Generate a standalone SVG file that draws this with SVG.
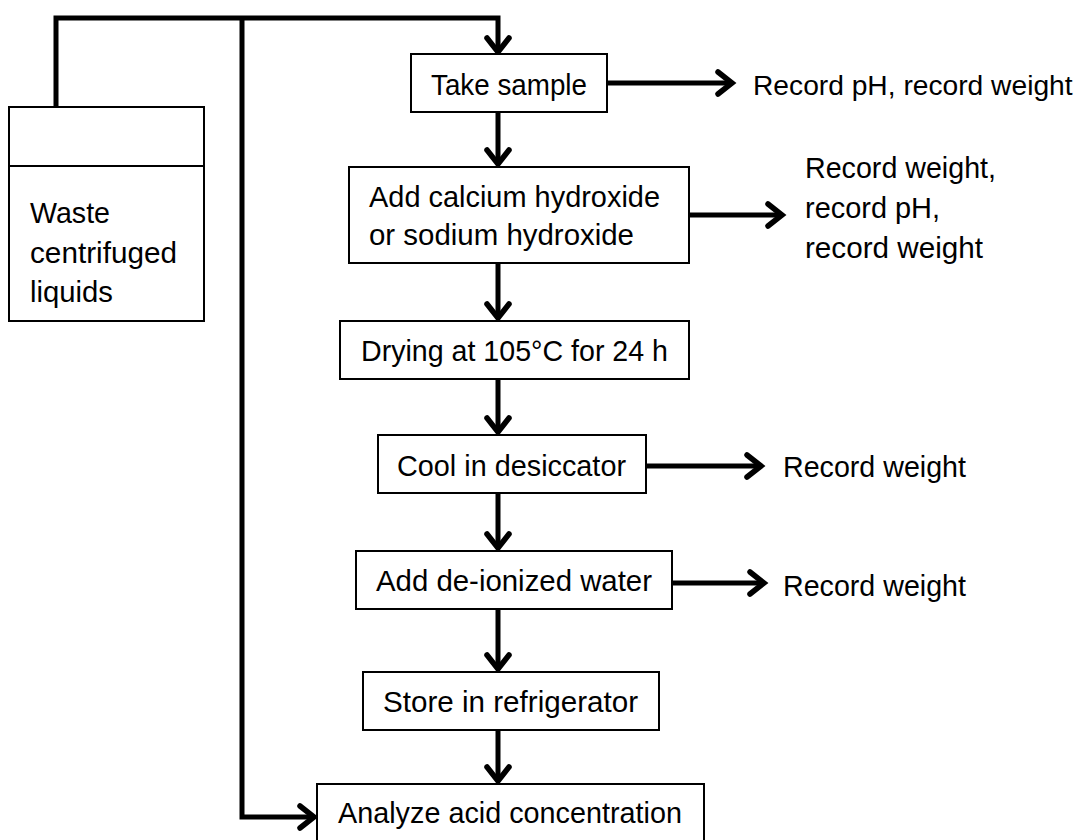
<svg xmlns="http://www.w3.org/2000/svg" width="1087" height="840" viewBox="0 0 1087 840">
<style>
.box{fill:#fff;stroke:#000;stroke-width:2}
.t{font-family:"Liberation Sans",Arial,sans-serif;font-size:30px;fill:#000}
.c{fill:none;stroke:#000;stroke-width:5}
</style>
<defs>
<marker id="ah" markerUnits="userSpaceOnUse" markerWidth="40" markerHeight="40" viewBox="-20 -20 40 40" refX="0" refY="0" orient="auto" overflow="visible">
<path d="M-14,-11 L0,0 L-14,11" fill="none" stroke="#000" stroke-width="5.5" stroke-linecap="round" stroke-linejoin="miter"/>
</marker>
</defs>
<rect width="1087" height="840" fill="#fff"/>
<g id="connectors">
<path class="c" d="M56,107 V18 H498 V52" marker-end="url(#ah)"/>
<path class="c" d="M242,18 V817 H314" marker-end="url(#ah)"/>
<path class="c" d="M498,112 V164" marker-end="url(#ah)"/>
<path class="c" d="M498,263 V318" marker-end="url(#ah)"/>
<path class="c" d="M498,379 V432" marker-end="url(#ah)"/>
<path class="c" d="M498,493 V548" marker-end="url(#ah)"/>
<path class="c" d="M498,609 V669" marker-end="url(#ah)"/>
<path class="c" d="M498,730 V781" marker-end="url(#ah)"/>
<path class="c" d="M607,83 H732" marker-end="url(#ah)"/>
<path class="c" d="M689,215 H782" marker-end="url(#ah)"/>
<path class="c" d="M646,466 H761" marker-end="url(#ah)"/>
<path class="c" d="M672,583 H764" marker-end="url(#ah)"/>
</g>
<g id="waste">
<rect class="box" x="9" y="107" width="195" height="214"/>
<line x1="9" y1="166" x2="204" y2="166" stroke="#000" stroke-width="2"/>
<text class="t" x="30" y="223" textLength="80" lengthAdjust="spacingAndGlyphs">Waste</text>
<text class="t" x="30" y="263" textLength="147" lengthAdjust="spacingAndGlyphs">centrifuged</text>
<text class="t" x="30" y="302" textLength="83" lengthAdjust="spacingAndGlyphs">liquids</text>
</g>
<g id="take-sample">
<rect class="box" x="411" y="54" width="196" height="58"/>
<text class="t" x="431" y="95" textLength="156" lengthAdjust="spacingAndGlyphs">Take sample</text>
</g>
<g id="record1">
<text class="t" x="753" y="95" style="font-size:28.2px">Record pH, record weight</text>
</g>
<g id="add-hydroxide">
<rect class="box" x="349" y="167" width="340" height="96"/>
<text class="t" x="369" y="207" textLength="291" lengthAdjust="spacingAndGlyphs">Add calcium hydroxide</text>
<text class="t" x="369" y="245" textLength="265" lengthAdjust="spacingAndGlyphs">or sodium hydroxide</text>
</g>
<g id="record2">
<text class="t" x="805" y="178" textLength="191" lengthAdjust="spacingAndGlyphs">Record weight,</text>
<text class="t" x="805" y="218" textLength="135" lengthAdjust="spacingAndGlyphs">record pH,</text>
<text class="t" x="805" y="258" textLength="178" lengthAdjust="spacingAndGlyphs">record weight</text>
</g>
<g id="drying">
<rect class="box" x="340" y="321" width="349" height="58"/>
<text class="t" x="361" y="361" textLength="307" lengthAdjust="spacingAndGlyphs">Drying at 105°C for 24 h</text>
</g>
<g id="cool">
<rect class="box" x="378" y="435" width="268" height="58"/>
<text class="t" x="397" y="476" textLength="229" lengthAdjust="spacingAndGlyphs">Cool in desiccator</text>
</g>
<g id="record3">
<text class="t" x="783" y="477" textLength="183" lengthAdjust="spacingAndGlyphs">Record weight</text>
</g>
<g id="add-water">
<rect class="box" x="356" y="551" width="316" height="58"/>
<text class="t" x="376" y="591" textLength="276" lengthAdjust="spacingAndGlyphs">Add de-ionized water</text>
</g>
<g id="record4">
<text class="t" x="783" y="596" textLength="183" lengthAdjust="spacingAndGlyphs">Record weight</text>
</g>
<g id="store">
<rect class="box" x="363" y="672" width="296" height="58"/>
<text class="t" x="383" y="712" textLength="255" lengthAdjust="spacingAndGlyphs">Store in refrigerator</text>
</g>
<g id="analyze">
<rect class="box" x="317" y="784" width="387" height="70"/>
<text class="t" x="338" y="823" textLength="344" lengthAdjust="spacingAndGlyphs">Analyze acid concentration</text>
</g>
</svg>
